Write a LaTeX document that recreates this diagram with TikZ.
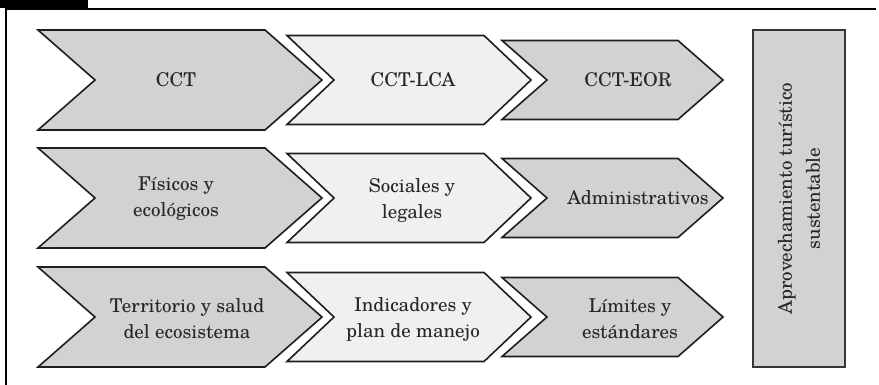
\documentclass[tikz,border=0pt]{standalone}
\usepackage{fontspec}
\setmainfont{TeX Gyre Schola}
\definecolor{chevdark}{HTML}{D1D2D4}
\definecolor{chevlight}{HTML}{EFF0F2}
\definecolor{edge}{HTML}{1E1E1E}
\definecolor{txt}{HTML}{262626}
\tikzset{
  chevshape/.style={draw=edge, line width=1.6pt, line join=miter},
  lbl/.style={font=\fontsize{19}{26}\selectfont, align=center, text=txt, inner sep=0pt},
  bigbox/.style={draw=edge!90, line width=2.2pt, fill=chevdark, font=\fontsize{19}{28}\selectfont, align=center, text=txt}
}
% name-free helper: x-left, y-centre, body width, height, point depth, fill
\newcommand\mychev[6]{%
  \path[chevshape, fill=#6] (#1,#2-#4/2) -- ++(#3,0) -- ++(#5,#4/2) -- ++(-#5,#4/2)
    -- ++(-#3,0) -- ++(#5,-#4/2) -- cycle;}
\begin{document}
\begin{tikzpicture}[x=1pt,y=-1pt]
\useasboundingbox (0,0) rectangle (879,385);
% frame
\fill[black] (0,0) rectangle (88,8);
\draw[line width=1.8pt] (5,9) -- (876,9);
\draw[line width=1.8pt] (6,9) -- (6,386);
% row 1
\mychev{38}{80}{227}{100}{57}{chevdark}
\mychev{287}{80}{197}{89}{47}{chevlight}
\mychev{502}{80}{176}{79}{45}{chevdark}
% row 2
\mychev{38}{198}{227}{100}{57}{chevdark}
\mychev{287}{198}{197}{89}{47}{chevlight}
\mychev{502}{198}{176}{79}{45}{chevdark}
% row 3
\mychev{38}{317}{227}{100}{57}{chevdark}
\mychev{287}{317}{197}{89}{47}{chevlight}
\mychev{502}{317}{176}{79}{45}{chevdark}
% labels
\node[lbl] (cct) at (176,80) {CCT};
\node[lbl] (cctlca) at (413,80) {CCT-LCA};
\node[lbl] (ccteor) at (628,80) {CCT-EOR};
\node[lbl] (fis) at (176,199) {Físicos y\\ecológicos};
\node[lbl] (soc) at (412,200) {Sociales y\\legales};
\node[lbl] (adm) at (638,198) {Administrativos};
\node[lbl] (ter) at (187,319) {Territorio y salud\\del ecosistema};
\node[lbl] (ind) at (413,319) {Indicadores y\\plan de manejo};
\node[lbl] (lim) at (630,319) {Límites y\\estándares};
% vertical box
\node[bigbox, rotate=90, minimum width=337pt, minimum height=92pt] (apro) at (799,198.5)
  {Aprovechamiento turístico\\sustentable};
\end{tikzpicture}
\end{document}
